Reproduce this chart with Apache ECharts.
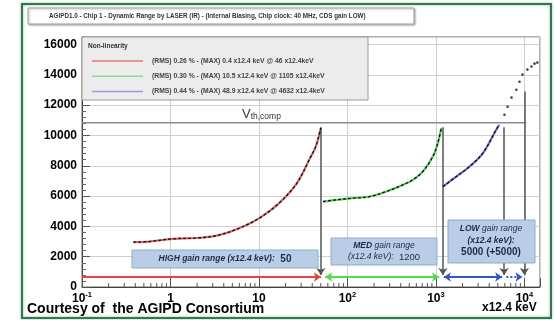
<!DOCTYPE html>
<html>
<head>
<meta charset="utf-8">
<script src="https://cdn.jsdelivr.net/npm/echarts@6/dist/echarts.min.js"></script>
<style>
  html, body { margin: 0; padding: 0; background: #fff; }
  #chart { width: 554px; height: 320px; }
</style>
</head>
<body>
<div id="chart"></div>
<script>
// ---- measured transfer curves (x in units of 12.4 keV, y in ADU) ----
const highX = [0.38, 0.57, 1.06, 2.2, 3.6, 6.1, 10.2, 17, 27, 37, 44, 50];
const highY = [2960, 3000, 3180, 3250, 3440, 3900, 4560, 5550, 6880, 8400, 9300, 10500];

const medX = [53, 75, 115, 178, 275, 423, 548, 711, 923, 1050, 1150];
const medY = [5640, 5750, 5860, 5970, 6300, 6740, 7070, 7620, 8610, 9500, 10490];

const lowX = [1200, 1700, 2400, 3400, 4800, 5200];
const lowY = [6630, 7290, 7950, 8840, 10380, 10710];

// points beyond the low-gain fit range
const overX = [5950, 6450, 7150, 8100, 8800, 9500, 10800, 12000, 13000, 14000];
const overY = [11370, 11900, 12500, 13020, 13550, 14020, 14350, 14550, 14740, 14810];

// comparator threshold
const vthX = [0.1, 10500];
const vthY = 10840;

// gain range arrows along the bottom
const rangeY = 660;
const rangeStart = [0.1, 56, 1230, 6250];
const rangeEnd = [50, 1080, 5600, 9500];
const rangeStartHead = ['none', 'arrow', 'arrow', 'none'];
const rangeColor = ['#e8433f', '#49e04a', '#3355cc', '#3355cc'];
const rangeStyle = ['solid', 'solid', 'solid', 'dotted'];

// gain switching markers
const switchX = [50, 1200, 5900, 10000];
const switchTop = [10550, 10550, 10550, 12900];
const switchBottom = 800;

// axes
const yMin = 0, yMax = 16500, yStep = 2000;
const xMin = 0.1, xMax = 15000;
const xTickText = { '-1': '{m|10}{s|-1}', '0': '{m|1}', '1': '{m|10}', '2': '{m|10}{s|2}', '3': '{m|10}{s|3}', '4': '{m|10}{s|4}' };
const xDecades = [0.1, 1, 10, 100, 1000, 10000];
const xMinorSteps = [2, 3, 4, 5, 6, 7, 8, 9];

// legend text
const legendTitle = 'Non-linearity';
const legendRows = [
  '(RMS) 0.26 % - (MAX) 0.4 x12.4 keV @ 46 x12.4keV',
  '(RMS) 0.30 % - (MAX) 10.5 x12.4 keV @ 1105 x12.4keV',
  '(RMS) 0.44 % - (MAX) 48.9 x12.4 keV @ 4632 x12.4keV'
];
const legendColors = ['#e07a7a', '#86e086', '#9a9ae0'];
const titleText = 'AGIPD1.0 - Chip 1 - Dynamic Range by LASER (IR) - (Internal Biasing, Chip clock: 40 MHz, CDS gain LOW)';

const FONT = '"Liberation Sans", Arial, sans-serif';
const pairs = (xs, ys) => xs.map((x, i) => [x, ys[i]]);
const minorTicks = [];
xDecades.forEach(d => xMinorSteps.forEach(m => { if (d * m < xMax) minorTicks.push([d * m, yMin]); }));

const chart = echarts.init(document.getElementById('chart'), null, { renderer: 'canvas' });

function curve(name, xs, ys, color) {
  return [
    { name: name, type: 'line', data: pairs(xs, ys), symbol: 'none', smooth: 0.35,
      lineStyle: { color: color, width: 2.2 }, z: 4, silent: true },
    { name: name + ' points', type: 'line', data: pairs(xs, ys), symbol: 'none', smooth: 0.35,
      lineStyle: { color: '#111', width: 1.3, type: [3, 2] }, z: 5, silent: true }
  ];
}

const rangeLines = rangeStart.map((s, i) => [
  { coord: [s, rangeY], symbol: rangeStartHead[i], symbolSize: 7 },
  { coord: [rangeEnd[i], rangeY], symbol: 'arrow', symbolSize: 7,
    lineStyle: { color: rangeColor[i], width: 2, type: rangeStyle[i] },
    itemStyle: { color: rangeColor[i] } }
]);
const switchLines = switchX.map((x, i) => [
  { coord: [x, switchTop[i]], symbol: 'none' },
  { coord: [x, switchBottom], symbol: 'arrow', symbolSize: 7 }
]);

const option = {
  animation: false,
  backgroundColor: '#fff',
  textStyle: { fontFamily: FONT },
  grid: { left: 82, right: 14, top: 37, bottom: 33, show: true, borderColor: '#666', borderWidth: 1, backgroundColor: '#fff' },
  xAxis: {
    type: 'log', logBase: 10, min: xMin, max: xMax,
    axisLine: { lineStyle: { color: '#444' } },
    axisTick: { inside: true, length: 9, lineStyle: { color: '#555' } },
    splitLine: { show: true, lineStyle: { color: '#d0d0d0' } },
    axisLabel: {
      margin: 4, color: '#000', fontFamily: FONT,
      formatter: v => {
        const k = Math.round(Math.log10(v));
        if (Math.abs(Math.log10(v) - k) > 1e-6) return '';
        return xTickText[String(k)] || '';
      },
      rich: {
        m: { fontSize: 12, fontWeight: 'bold', fontFamily: FONT, lineHeight: 15, color: '#000' },
        s: { fontSize: 7.5, fontWeight: 'bold', fontFamily: FONT, verticalAlign: 'top', color: '#000' }
      }
    }
  },
  yAxis: {
    type: 'value', min: yMin, max: yMax, interval: yStep,
    axisLine: { show: true, lineStyle: { color: '#444' } },
    axisTick: { show: true, inside: true, length: 8, lineStyle: { color: '#555' } },
    minorTick: { show: true, splitNumber: 5, length: 4, lineStyle: { color: '#666' } },
    splitLine: { show: true, lineStyle: { color: '#d0d0d0' } },
    axisLabel: {
      margin: 5, color: '#000', fontSize: 12, fontWeight: 'bold', fontFamily: FONT,
      formatter: v => (v % yStep === 0 && v <= 16000) ? String(v) : ''
    }
  },
  series: [
    { name: 'Vth,comp', type: 'line', data: vthX.map(x => [x, vthY]), symbol: 'none',
      lineStyle: { color: '#8c8c8c', width: 1.6 }, z: 2, silent: true },
    { name: 'ranges', type: 'line', data: [], silent: true, z: 3,
      markLine: { silent: true, animation: false, label: { show: false }, data: rangeLines } },
    { name: 'switch', type: 'line', data: [], silent: true, z: 3,
      markLine: { silent: true, animation: false, label: { show: false },
        lineStyle: { color: '#555', width: 1.5, type: 'solid' }, itemStyle: { color: '#555' },
        data: switchLines } },
    ...curve('HIGH', highX, highY, '#e36a6a'),
    ...curve('MED', medX, medY, '#55d455'),
    ...curve('LOW', lowX, lowY, '#6a6ae0'),
    { name: 'overflow', type: 'scatter', data: pairs(overX, overY), symbolSize: 2.6,
      itemStyle: { color: '#111' }, z: 5, silent: true },
    { name: 'minor ticks', type: 'custom', data: minorTicks, silent: true, z: 6,
      renderItem: (params, api) => {
        const p = api.coord([api.value(0), api.value(1)]);
        return { type: 'line', shape: { x1: p[0], y1: p[1], x2: p[0], y2: p[1] - 4 },
          style: { stroke: '#555', lineWidth: 1 } };
      } }
  ],
  graphic: [
    // outer frame
    { type: 'rect', z: 50, silent: true, shape: { x: 22, y: 4, width: 529, height: 314 },
      style: { fill: 'none', stroke: '#2f7a4c', lineWidth: 2, shadowBlur: 3, shadowColor: 'rgba(20,90,50,0.45)' } },
    // title box
    { type: 'rect', z: 50, silent: true, shape: { x: 28, y: 8, width: 386, height: 16 },
      style: { fill: '#fff', stroke: '#a0a0a0', lineWidth: 1, shadowBlur: 2, shadowOffsetX: 1, shadowOffsetY: 1, shadowColor: 'rgba(0,0,0,0.3)' } },
    { type: 'text', z: 51, silent: true, x: 49, y: 16,
      style: { text: titleText, fill: '#333', font: 'bold 6.3px ' + FONT, textVerticalAlign: 'middle' } },
    // legend
    { type: 'rect', z: 50, silent: true, shape: { x: 82, y: 37, width: 286, height: 63 },
      style: { fill: '#ececec', stroke: '#9a9a9a', lineWidth: 1 } },
    { type: 'text', z: 51, silent: true, x: 88, y: 46,
      style: { text: legendTitle, fill: '#333', font: 'bold 6.5px ' + FONT, textVerticalAlign: 'middle' } },
    ...legendRows.flatMap((t, i) => [
      { type: 'line', z: 51, silent: true, shape: { x1: 92, y1: 61 + i * 15.3, x2: 143, y2: 61 + i * 15.3 },
        style: { stroke: legendColors[i], lineWidth: 1.5 } },
      { type: 'text', z: 51, silent: true, x: 152, y: 61 + i * 15.3,
        style: { text: t, fill: '#444', font: 'bold 6.8px ' + FONT, textVerticalAlign: 'middle' } }
    ]),
    // threshold label
    { type: 'text', z: 51, silent: true, x: 242, y: 114,
      style: { text: '{v|V}{s|th,comp}', textVerticalAlign: 'middle',
        rich: { v: { fontSize: 13, fontFamily: FONT, fill: '#333', lineHeight: 15 },
                s: { fontSize: 8.5, fontFamily: FONT, fill: '#333', verticalAlign: 'bottom' } } } },
    // gain range boxes
    { type: 'rect', z: 50, silent: true, shape: { x: 132, y: 250, width: 186, height: 18 },
      style: { fill: '#b9cde6', stroke: '#8fabcf', lineWidth: 1 } },
    { type: 'text', z: 51, silent: true, x: 225, y: 259,
      style: { text: '{i|HIGH gain range (x12.4 keV):}{n|  50}', textAlign: 'center', textVerticalAlign: 'middle',
        rich: { i: { fontSize: 8.5, fontStyle: 'italic', fontWeight: 'bold', fontFamily: FONT, fill: '#1d2b4a' },
                n: { fontSize: 10, fontWeight: 'bold', fontFamily: FONT, fill: '#1d2b4a' } } } },
    { type: 'rect', z: 50, silent: true, shape: { x: 331, y: 238, width: 106, height: 27 },
      style: { fill: '#b9cde6', stroke: '#8fabcf', lineWidth: 1 } },
    { type: 'text', z: 51, silent: true, x: 384, y: 251.5,
      style: { text: '{b|MED}{i| gain range}\n{i|(x12.4 keV):}{n|  1200}', textAlign: 'center', textVerticalAlign: 'middle',
        rich: { b: { fontSize: 8.5, fontStyle: 'italic', fontWeight: 'bold', fontFamily: FONT, fill: '#1d2b4a', lineHeight: 11 },
                i: { fontSize: 8.5, fontStyle: 'italic', fontFamily: FONT, fill: '#1d2b4a', lineHeight: 11 },
                n: { fontSize: 9.5, fontFamily: FONT, fill: '#1d2b4a', lineHeight: 11 } } } },
    { type: 'rect', z: 50, silent: true, shape: { x: 448, y: 220, width: 87, height: 43 },
      style: { fill: '#b9cde6', stroke: '#8fabcf', lineWidth: 1 } },
    { type: 'text', z: 51, silent: true, x: 491, y: 241,
      style: { text: '{b|LOW}{i| gain range}\n{b|(x12.4 keV):}\n{n|5000 (+5000)}', textAlign: 'center', textVerticalAlign: 'middle',
        rich: { b: { fontSize: 8.5, fontStyle: 'italic', fontWeight: 'bold', fontFamily: FONT, fill: '#1d2b4a', lineHeight: 11.5 },
                i: { fontSize: 8.5, fontStyle: 'italic', fontFamily: FONT, fill: '#1d2b4a', lineHeight: 11.5 },
                n: { fontSize: 10, fontWeight: 'bold', fontFamily: FONT, fill: '#1d2b4a', lineHeight: 13 } } } },
    // footer
    { type: 'text', z: 51, silent: true, x: 27, y: 309,
      style: { text: 'Courtesy of  the AGIPD Consortium', fill: '#000', font: 'bold 14px ' + FONT, textVerticalAlign: 'middle' } },
    { type: 'text', z: 51, silent: true, x: 482, y: 308,
      style: { text: 'x12.4 keV', fill: '#000', font: 'bold 12px ' + FONT, textVerticalAlign: 'middle' } }
  ]
};

chart.setOption(option);
</script>
</body>
</html>
